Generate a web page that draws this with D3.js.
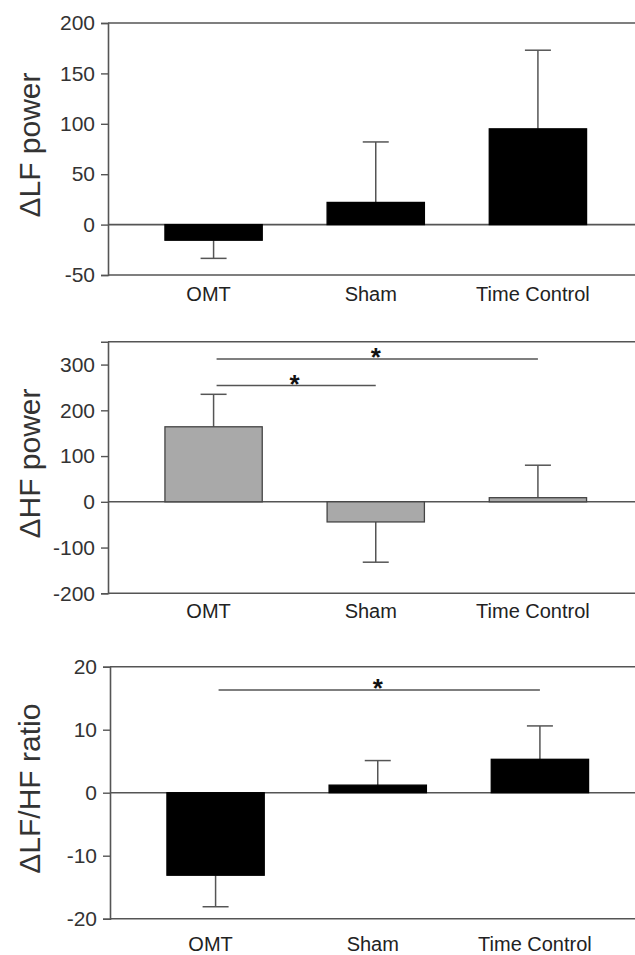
<!DOCTYPE html>
<html>
<head>
<meta charset="utf-8">
<script src="https://cdn.jsdelivr.net/npm/d3@7"></script>
<style>
  body { margin: 0; background: #fff; }
  text { font-family: Arial, "Liberation Sans", sans-serif; }
</style>
</head>
<body>
<script>
// three panels: change in LF power, HF power and LF/HF ratio
const width = 635, height = 955;

const categories = ["OMT", "Sham", "Time Control"];

const lfMean = [-15.5, 22, 95];
const lfErr = [18, 60, 78];

const hfMean = [164, -44, 9];
const hfErr = [71, 88, 71];

const ratioMean = [-13.1, 1.2, 5.3];
const ratioErr = [5, 3.9, 5.3];

const lfTicks = [-50, 0, 50, 100, 150, 200];
const hfTicks = [-200, -100, 0, 100, 200, 300];
const ratioTicks = [-20, -10, 0, 10, 20];

// significance bars: [from, to, level]
const hfSig = [["OMT", "Time Control", 312], ["OMT", "Sham", 254]];
const ratioSig = [["OMT", "Time Control", 16.3]];

const panels = [
    { label: "\u0394LF power", mean: lfMean, err: lfErr, ticks: lfTicks, domain: [-50, 200],
      top: 23, bottom: 275, left: 108, fill: "#000", sig: [], labelGap: 26 },
    { label: "\u0394HF power", mean: hfMean, err: hfErr, ticks: hfTicks, domain: [-200, 350],
      top: 341.7, bottom: 593.3, left: 108, fill: "#a9a9a9", sig: hfSig, labelGap: 25 },
    { label: "\u0394LF/HF ratio", mean: ratioMean, err: ratioErr, ticks: ratioTicks, domain: [-20, 20],
      top: 666.7, bottom: 918.7, left: 110, fill: "#000", sig: ratioSig, labelGap: 32 }
];

const svg = d3.select("body").append("svg")
    .attr("width", width)
    .attr("height", height);

const axisColor = "#555";

panels.forEach(p => {
    const shift = p.left - 108;
    const x = d3.scaleBand()
        .domain(categories)
        .range([132.5 + shift, 619 + shift])
        .paddingInner(0.4)
        .paddingOuter(0.2);

    const y = d3.scaleLinear()
        .domain(p.domain)
        .range([p.bottom, p.top]);

    const g = svg.append("g");

    // frame lines: top, bottom, zero
    [p.domain[1], p.domain[0], 0].forEach(v => {
        g.append("line")
            .attr("x1", p.left).attr("x2", width + 5)
            .attr("y1", y(v)).attr("y2", y(v))
            .attr("stroke", axisColor)
            .attr("stroke-width", 1.6);
    });

    // y axis
    const yAxis = g.append("g")
        .attr("transform", `translate(${p.left},0)`)
        .call(d3.axisLeft(y).tickValues(p.ticks).tickSize(7).tickPadding(6).tickFormat(d3.format("d")));
    yAxis.select(".domain").attr("stroke", axisColor).attr("stroke-width", 1.6);
    yAxis.selectAll(".tick line").attr("stroke", axisColor).attr("stroke-width", 1.4);
    yAxis.selectAll(".tick text")
        .attr("fill", "#333")
        .style("font-size", "21px")
        .style("font-family", "Arial, 'Liberation Sans', sans-serif")
        .text(d => d < 0 ? "-" + Math.abs(d) : d);

    // error bars (one-sided, away from zero)
    const eb = g.append("g");
    categories.forEach((c, i) => {
        const m = p.mean[i];
        const end = m >= 0 ? m + p.err[i] : m - p.err[i];
        const cx = x(c) + x.bandwidth() / 2;
        eb.append("line")
            .attr("x1", cx).attr("x2", cx)
            .attr("y1", y(m)).attr("y2", y(end))
            .attr("stroke", axisColor).attr("stroke-width", 1.5);
        eb.append("line")
            .attr("x1", cx - 13).attr("x2", cx + 13)
            .attr("y1", y(end)).attr("y2", y(end))
            .attr("stroke", axisColor).attr("stroke-width", 1.5);
    });

    // bars
    g.append("g").selectAll("rect")
        .data(categories)
        .enter().append("rect")
        .attr("x", d => x(d))
        .attr("width", x.bandwidth())
        .attr("y", (d, i) => y(Math.max(0, p.mean[i])))
        .attr("height", (d, i) => Math.abs(y(p.mean[i]) - y(0)))
        .attr("fill", p.fill)
        .attr("stroke", p.fill === "#000" ? "#000" : "#444")
        .attr("stroke-width", 1.3);

    // category labels
    g.append("g").selectAll("text")
        .data(categories)
        .enter().append("text")
        .attr("x", d => x(d) + x.bandwidth() / 2 - 5)
        .attr("y", p.bottom + p.labelGap)
        .attr("text-anchor", "middle")
        .attr("fill", "#222")
        .style("font-size", "20px")
        .text(d => d);

    // y label
    g.append("text")
        .attr("transform", `translate(40,${(p.top + p.bottom) / 2 - 4}) rotate(-90)`)
        .attr("text-anchor", "middle")
        .attr("fill", "#333")
        .style("font-size", "30px")
        .text(p.label);

    // significance lines with asterisks
    p.sig.forEach(s => {
        const x1 = x(s[0]) + x.bandwidth() / 2;
        const x2 = x(s[1]) + x.bandwidth() / 2;
        g.append("line")
            .attr("x1", x1 + 3).attr("x2", x2)
            .attr("y1", y(s[2])).attr("y2", y(s[2]))
            .attr("stroke", axisColor).attr("stroke-width", 1.5);
        g.append("text")
            .attr("x", (x1 + x2) / 2)
            .attr("y", y(s[2]) + 7)
            .attr("text-anchor", "middle")
            .attr("fill", "#111")
            .style("font-size", "26px")
            .style("font-weight", "bold")
            .text("*");
    });
});
</script>
</body>
</html>
